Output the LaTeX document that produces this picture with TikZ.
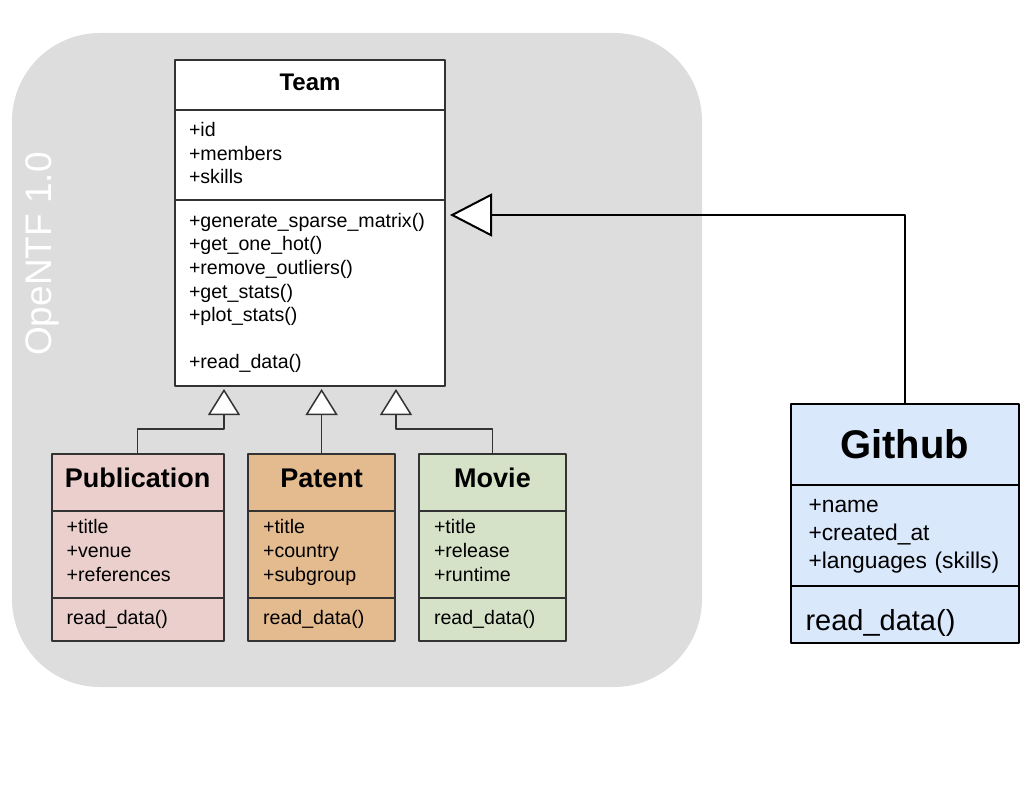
\documentclass[tikz,border=0pt]{standalone}
\usepackage{fontspec}
\setmainfont{Liberation Sans}
\usetikzlibrary{positioning,arrows.meta}
\definecolor{bggray}{HTML}{DDDDDD}
\definecolor{edge}{HTML}{333333}
\definecolor{pubfill}{HTML}{EACFCC}
\definecolor{patfill}{HTML}{E4BB8E}
\definecolor{movfill}{HTML}{D5E2C7}
\definecolor{gitfill}{HTML}{DAE8FC}
\tikzset{
  part/.style={draw=edge, line width=2pt, outer sep=0pt, inner sep=0pt},
  head/.style={part, font=\fontsize{24}{28}\selectfont\bfseries, text height=17.5pt, text depth=6.5pt},
  subhead/.style={part, font=\fontsize{27}{32}\selectfont\bfseries, text height=20pt, text depth=10pt},
  list/.style={part, align=left, inner xsep=14pt, font=\fontsize{19.6}{23.6}\selectfont},
  gen/.style={draw=edge, line width=1.5pt, -{Triangle[length=26pt, width=32pt, fill=white]}},
}
\begin{document}
\begin{tikzpicture}[x=1pt, y=-1pt, line join=round]
	\useasboundingbox (0,0) rectangle (1022,805);
	% container
	\fill[bggray, rounded corners=88pt] (12,33) rectangle (702,687);
	\node[rotate=90, text=white, font=\fontsize{37}{40}\selectfont] (ver) at (42.5,254) {OpeNTF 1.0};
	% base class
	\node[head, fill=white, minimum width=270pt, minimum height=50pt] (team) at (310,85) {Team};
	\node[list, fill=white, text width=242pt, minimum height=90pt, text depth=51.4pt, below=0pt of team] (team-a) {+id\\+members\\+skills};
	\node[list, fill=white, text width=242pt, minimum height=186pt, below=0pt of team-a] (team-m)
		{+generate\_sparse\_matrix()\\+get\_one\_hot()\\+remove\_outliers()\\+get\_stats()\\+plot\_stats()\\[23.6pt]+read\_data()};
	% subclasses
	\node[subhead, fill=pubfill, minimum width=172pt, minimum height=57pt] (pub) at (137.7,482.5) {Publication};
	\node[list, fill=pubfill, inner xsep=15pt, text width=142pt, minimum height=87pt, text depth=55.6pt, below=0pt of pub] (pub-a) {+title\\+venue\\+references};
	\node[list, fill=pubfill, inner xsep=15pt, text width=142pt, minimum height=43pt, below=0pt of pub-a] (pub-m) {read\_data()};
	\node[subhead, fill=patfill, minimum width=147pt, minimum height=57pt] (pat) at (321.6,482.5) {Patent};
	\node[list, fill=patfill, inner xsep=15pt, text width=117pt, minimum height=87pt, text depth=55.6pt, below=0pt of pat] (pat-a) {+title\\+country\\+subgroup};
	\node[list, fill=patfill, inner xsep=15pt, text width=117pt, minimum height=43pt, below=0pt of pat-a] (pat-m) {read\_data()};
	\node[subhead, fill=movfill, minimum width=147pt, minimum height=57pt] (mov) at (492.5,482.5) {Movie};
	\node[list, fill=movfill, inner xsep=15pt, text width=117pt, minimum height=87pt, text depth=55.6pt, below=0pt of mov] (mov-a) {+title\\+release\\+runtime};
	\node[list, fill=movfill, inner xsep=15pt, text width=117pt, minimum height=43pt, below=0pt of mov-a] (mov-m) {read\_data()};
	% github
	\node[part, draw=black, fill=gitfill, font=\fontsize{40}{46}\selectfont\bfseries, minimum width=228pt, minimum height=80.5pt] (git) at (904.5,444.25) {Github};
	\node[list, draw=black, fill=gitfill, inner xsep=18pt, text width=192pt, minimum height=101.5pt, text depth=58pt, font=\fontsize{22.8}{27.6}\selectfont, below=0pt of git] (git-a) {+name\\+created\_at\\\mbox{+languages (skills)}};
	\node[list, draw=black, fill=gitfill, inner xsep=15pt, text width=198pt, minimum height=57pt, text height=31pt, text depth=0pt, font=\fontsize{29}{34}\selectfont, below=0pt of git-a] (git-m) {read\_data()};
	% inheritance
	\coordinate (tp) at ([xshift=-86pt, yshift=-3pt]team-m.south);
	\coordinate (tq) at (pat.north |- tp);
	\coordinate (tm) at ([xshift=86pt, yshift=-3pt]team-m.south);
	\coordinate (tg) at ([xshift=5pt, yshift=-15pt]team-m.north east);
	\draw[gen] (pub.north) -- ++(0,-25) -| (tp);
	\draw[gen] (pat.north) -- (tq);
	\draw[gen] (mov.north) -- ++(0,-25) -| (tm);
	\draw[gen, draw=black, line width=2pt, -{Triangle[length=42pt, width=43pt, fill=white]}] (git.north) |- (tg);
\end{tikzpicture}
\end{document}
